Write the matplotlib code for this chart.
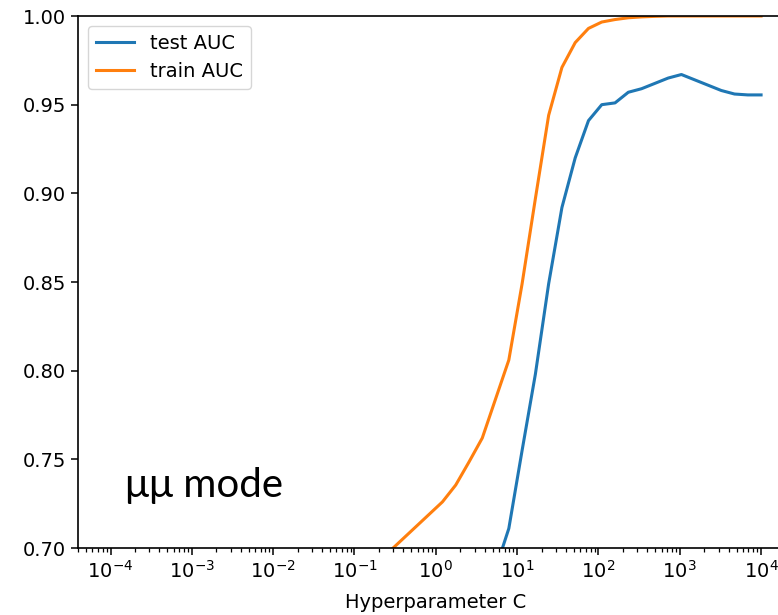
import numpy as np
import matplotlib
matplotlib.use("Agg")
import matplotlib.pyplot as plt

# regularisation strengths swept on a log grid
C_values = np.logspace(-4, 4, 50)

test_auc = [0.500, 0.500, 0.500, 0.500, 0.500, 0.500, 0.500, 0.500, 0.500, 0.500,
            0.500, 0.501, 0.502, 0.504, 0.507, 0.511, 0.517, 0.525, 0.535, 0.547,
            0.561, 0.577, 0.594, 0.611, 0.627, 0.642, 0.655, 0.666, 0.676, 0.688,
            0.711, 0.755, 0.798, 0.849, 0.892, 0.920, 0.941, 0.950, 0.951, 0.957,
            0.959, 0.962, 0.965, 0.967, 0.964, 0.961, 0.958, 0.956, 0.9555, 0.9555]

train_auc = [0.560, 0.561, 0.562, 0.563, 0.565, 0.567, 0.570, 0.573, 0.577, 0.582,
             0.588, 0.595, 0.603, 0.612, 0.622, 0.633, 0.645, 0.658, 0.670, 0.681,
             0.690, 0.698, 0.705, 0.712, 0.719, 0.726, 0.7355, 0.7485, 0.762, 0.784,
             0.806, 0.849, 0.897, 0.944, 0.971, 0.985, 0.993, 0.9966, 0.998, 0.999,
             0.9995, 0.9998, 1.0, 1.0, 1.0, 1.0, 1.0, 1.0, 1.0, 1.0]

yticks = [0.70, 0.75, 0.80, 0.85, 0.90, 0.95, 1.00]
xticks = [1e-4, 1e-3, 1e-2, 1e-1, 1e0, 1e1, 1e2, 1e3, 1e4]

plt.rcParams["font.size"] = 14

fig = plt.figure(figsize=(7.78, 6.15), dpi=100)
# axes runs past the right border of the figure
ax = fig.add_axes([78 / 778, 67 / 615, 715.6 / 778, 532 / 615])
ax.patch.set_visible(False)

ax.plot(C_values, test_auc, color="#1f77b4", lw=2.2, label="test AUC")
ax.plot(C_values, train_auc, color="#ff7f0e", lw=2.2, label="train AUC")

ax.set_xscale("log")
ax.set_xticks(xticks)
ax.set_xlim(10 ** -4.4, 10 ** 4.4)
ax.set_ylim(0.70, 1.00)
ax.set_yticks(yticks)
ax.set_yticklabels([f"{v:.2f}" for v in yticks])
ax.set_xlabel("Hyperparameter C", labelpad=8)
ax.tick_params(which="major", length=5, width=1.1)
ax.tick_params(which="minor", length=3, width=0.9)
for name in ("left", "top", "bottom"):
    ax.spines[name].set_linewidth(1.2)
ax.spines["right"].set_visible(False)

ax.legend(loc="upper left", handlelength=2.0, borderaxespad=0.5)

fig.text(125 / 778, 1 - 497 / 615, "μμ mode", fontsize=29,
         family=["Lato", "DejaVu Sans"], va="baseline", ha="left")

fig.savefig("out.png", dpi=100)
